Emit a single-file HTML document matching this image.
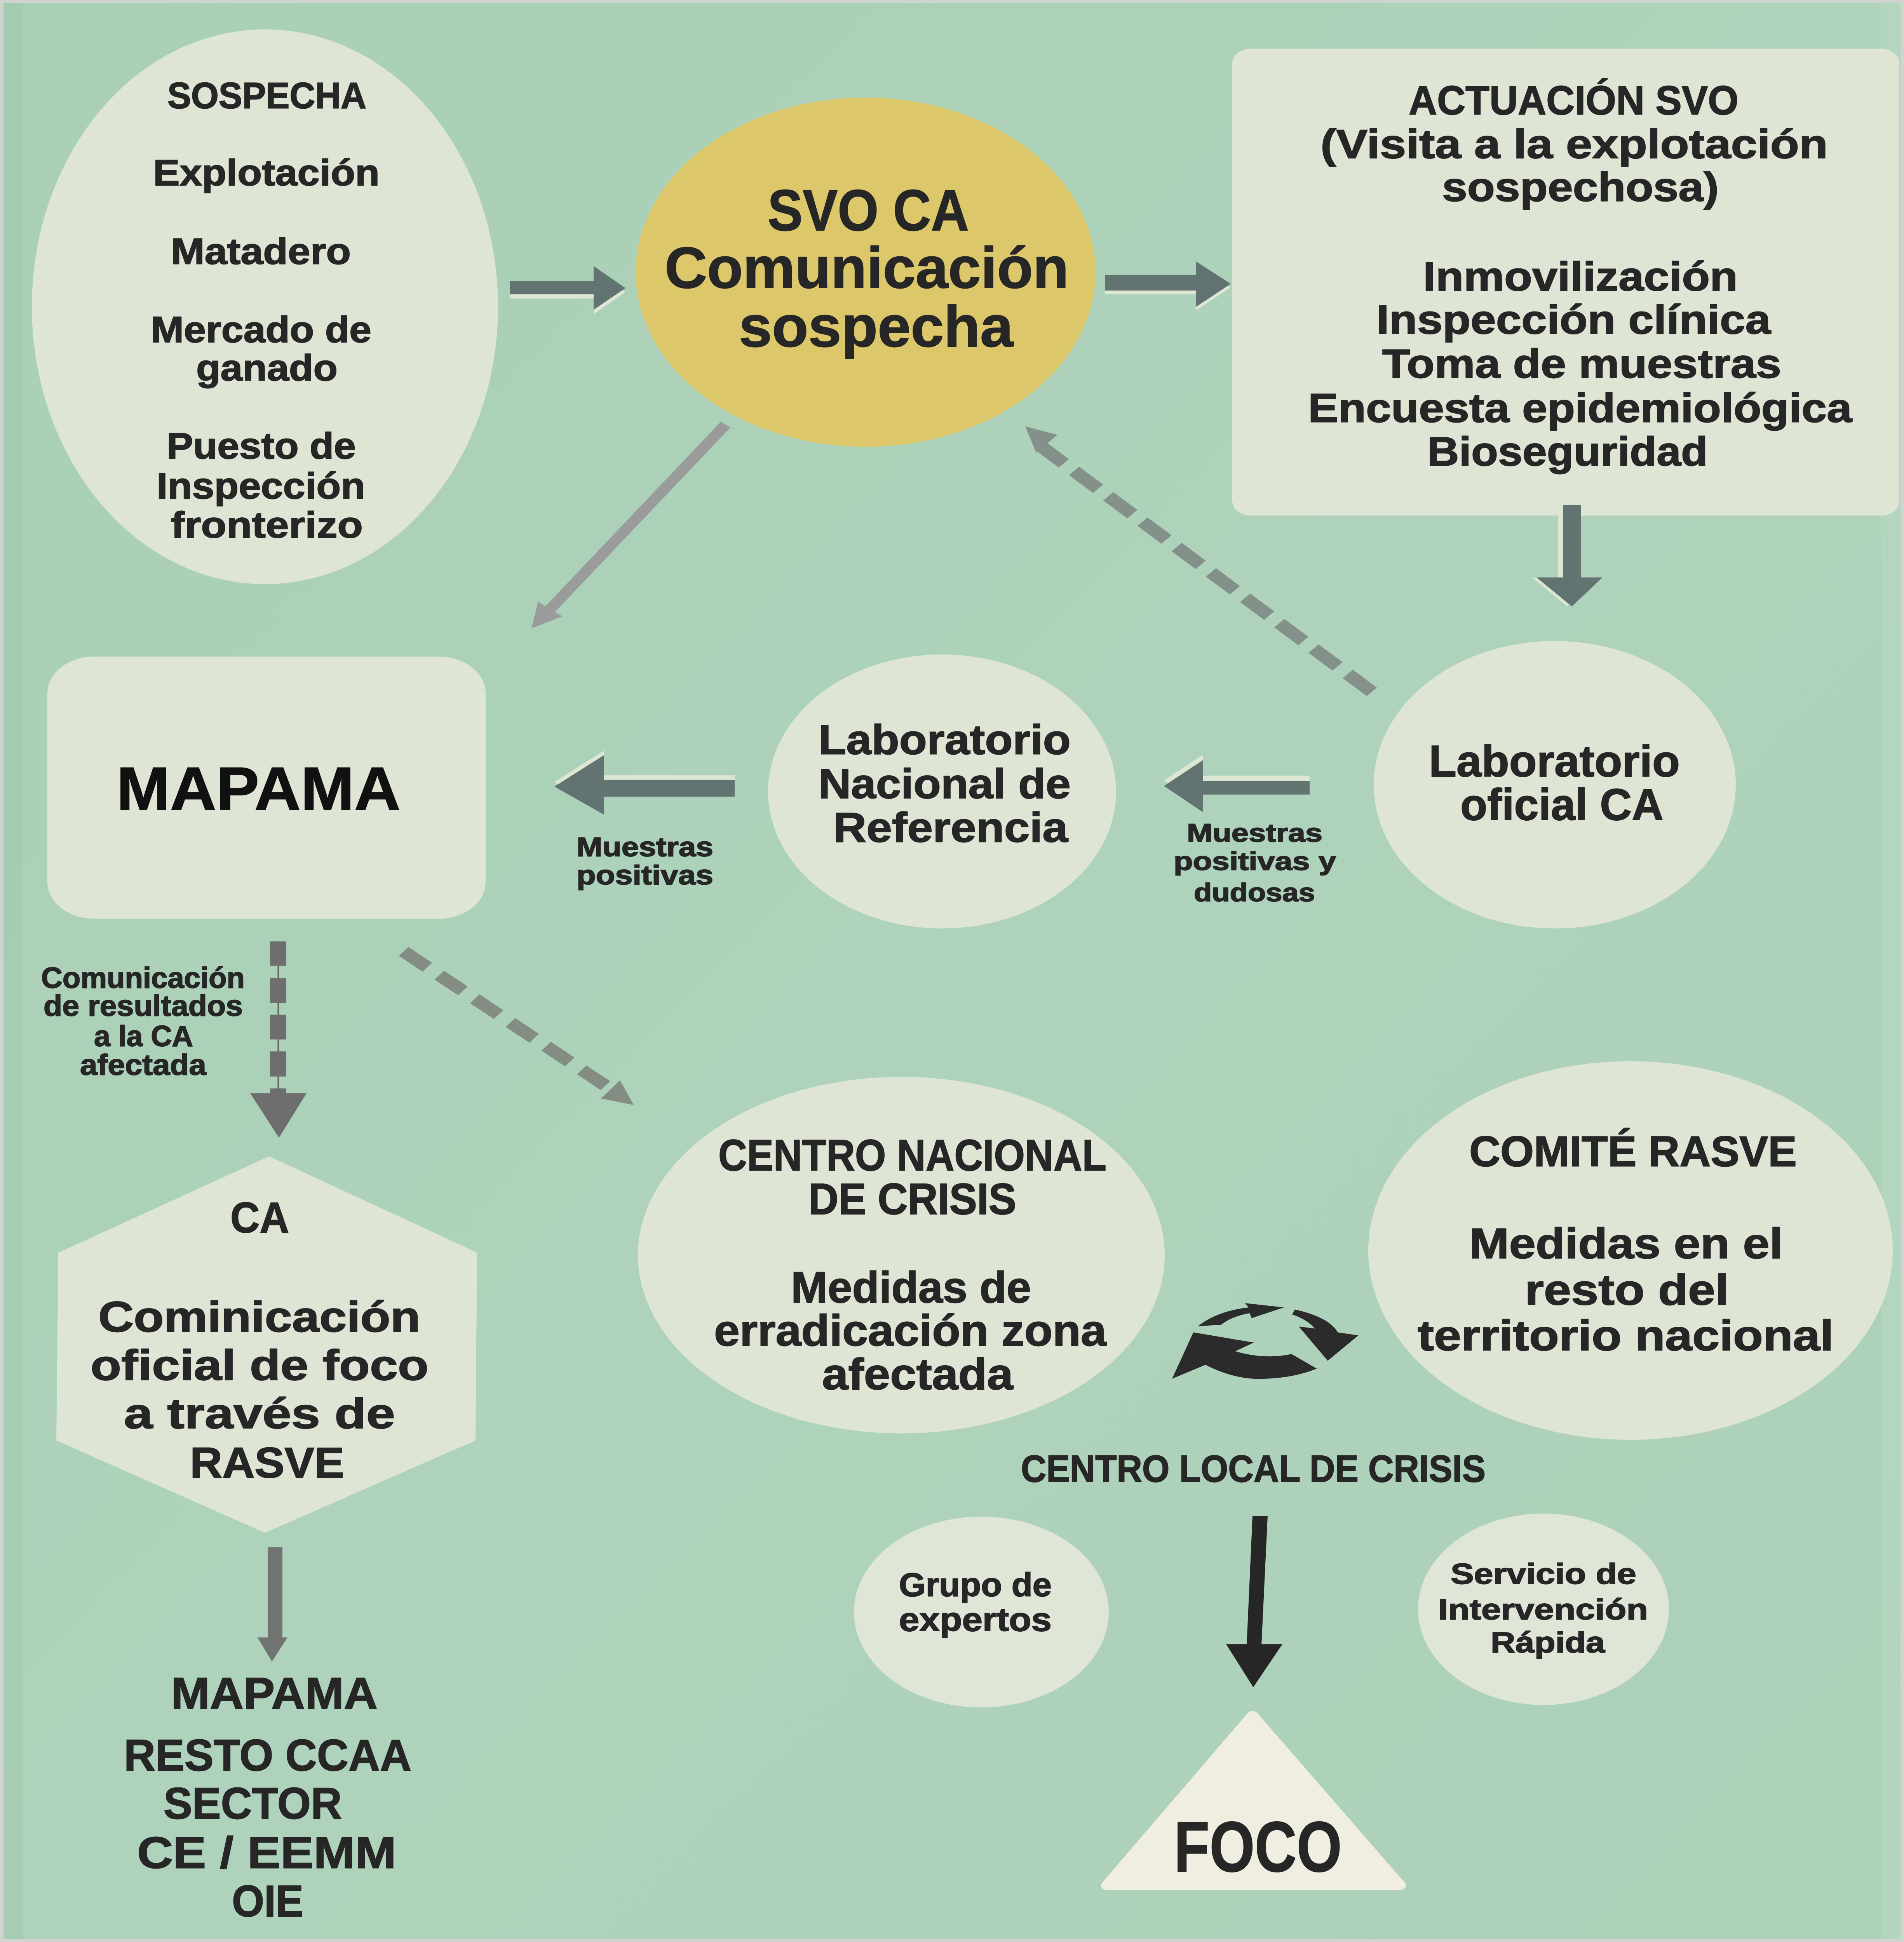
<!DOCTYPE html>
<html>
<head>
<meta charset="utf-8">
<style>
  html, body { margin: 0; padding: 0; width: 100%; height: 100%; overflow: hidden; background: #add1b9; }
  svg { position: fixed; left: 0; top: 0; width: 100vw; height: 100vh; display: block; }
  text { font-family: "Liberation Sans Narrow", "Liberation Sans", "DejaVu Sans Condensed", sans-serif; font-weight: bold; fill: #262626; stroke: #262626; stroke-width: 2.5; }
</style>
</head>
<body>
<svg xmlns="http://www.w3.org/2000/svg" viewBox="0 0 4901 6350" preserveAspectRatio="none">
  <defs>
    <linearGradient id="bg" x1="0" y1="0" x2="1" y2="1">
      <stop offset="0" stop-color="#a9cfb5"/>
      <stop offset="0.5" stop-color="#aed2bb"/>
      <stop offset="1" stop-color="#acd0b8"/>
    </linearGradient>
  </defs>
  <!-- background -->
  <rect x="0" y="0" width="4901" height="6350" fill="url(#bg)"/>
  <rect x="0" y="0" width="60" height="6350" fill="#a2c8ad" opacity="0.6"/>
  <rect x="4841" y="0" width="60" height="6350" fill="#b8d8c2" opacity="0.6"/>
  <rect x="0" y="0" width="4901" height="9" fill="#cfd4ce"/>
  <rect x="0" y="6341" width="4901" height="9" fill="#cfd4ce"/>
  <rect x="0" y="0" width="9" height="6350" fill="#cfd4ce"/>
  <rect x="4892" y="0" width="9" height="6350" fill="#cfd4ce"/>

  <!-- ===== Nodes ===== -->
  <ellipse cx="682" cy="1003" rx="600" ry="907" fill="#dee5d5"/>
  <ellipse cx="2228" cy="890" rx="592" ry="571" fill="#dcc76b"/>
  <rect x="3172" y="159" width="1717" height="1527" rx="48" ry="48" fill="#dee5d5"/>
  <rect x="122" y="2147" width="1128" height="857" rx="120" ry="120" fill="#dee5d5"/>
  <ellipse cx="2425" cy="2588" rx="448" ry="448" fill="#dee5d5"/>
  <ellipse cx="4002" cy="2566" rx="466" ry="470" fill="#dee5d5"/>
  <polygon points="693,3781 1228,4096 1224,4710 682,5012 145,4710 150,4096" fill="#dee5d5"/>
  <ellipse cx="2320" cy="4104" rx="678" ry="583" fill="#dee5d5"/>
  <ellipse cx="4197" cy="4089" rx="675" ry="619" fill="#dee5d5"/>
  <ellipse cx="2526" cy="5271" rx="328" ry="312" fill="#e0e6d7"/>
  <ellipse cx="3973" cy="5262" rx="323" ry="313" fill="#e0e6d7"/>
  <polygon points="3224,5610 3604,6165 2849,6165" fill="#f0eee0" stroke="#f0eee0" stroke-width="30" stroke-linejoin="round"/>

  <!-- ===== Connectors ===== -->
  <polygon points="1313,933 1528,933 1528,884 1610,956 1528,1027 1528,976 1313,976" fill="#dde5d3"/>
  <polygon points="1313,919 1528,919 1528,870 1610,942 1528,1013 1528,962 1313,962" fill="#627471"/>
  <polygon points="2845,911 3079,911 3079,867 3168,940 3079,1015 3079,962 2845,962" fill="#dde5d3"/>
  <polygon points="2845,899 3079,899 3079,855 3168,928 3079,1003 3079,950 2845,950" fill="#627471"/>
  <polygon points="4011,1652 4058,1652 4058,1888 4113,1888 4034,1983 3943,1888 4011,1888" fill="#dde5d3"/>
  <polygon points="4023,1652 4070,1652 4070,1888 4125,1888 4046,1983 3955,1888 4023,1888" fill="#627471"/>
  <polygon points="1891,2535 1555,2535 1555,2454 1427,2557 1555,2649 1555,2590 1891,2590" fill="#dde5d3"/>
  <polygon points="1891,2550 1555,2550 1555,2469 1427,2572 1555,2664 1555,2605 1891,2605" fill="#627471"/>
  <polygon points="3371,2536 3097,2536 3097,2467 2996,2552 3097,2638 3097,2580 3371,2580" fill="#dde5d3"/>
  <polygon points="3371,2554 3097,2554 3097,2485 2996,2570 3097,2656 3097,2598 3371,2598" fill="#627471"/>
  <line x1="1868" y1="1388" x2="1410" y2="2000" stroke="#9a9c9b" stroke-width="31"/>
  <polygon points="1368,2055 1385,1967 1412,1990 1448,2015" fill="#9a9c9b"/>
  <line x1="3531" y1="2262" x2="2680" y2="1460" stroke="#84908a" stroke-width="38" stroke-dasharray="85 36"/>
  <polygon points="2639,1394 2722,1422 2667,1480" fill="#84908a"/>
  <line x1="716" y1="3078" x2="716" y2="3580" stroke="#4e4e4e" stroke-width="3"/>
  <rect x="695" y="3078" width="42" height="80" fill="#6e6e6e"/>
  <rect x="695" y="3198" width="42" height="81" fill="#6e6e6e"/>
  <rect x="695" y="3318" width="42" height="81" fill="#6e6e6e"/>
  <rect x="695" y="3438" width="42" height="82" fill="#6e6e6e"/>
  <rect x="695" y="3559" width="42" height="20" fill="#6e6e6e"/>
  <polygon points="644,3575 789,3575 718,3720" fill="#6e6e6e"/>
  <line x1="1039" y1="3111" x2="1568" y2="3558" stroke="#838d84" stroke-width="38" stroke-dasharray="80 40"/>
  <polygon points="1631,3613 1596,3532 1547,3592" fill="#838d84"/>
  <polygon points="3224,4957 3263,4957 3247,5380 3209,5380" fill="#262626"/>
  <polygon points="3156,5376 3301,5376 3226,5517" fill="#262626"/>
  <rect x="689" y="5059" width="38" height="298" fill="#717572"/>
  <polygon points="663,5354 740,5354 700,5433" fill="#717572"/>

  <!-- Recycle icon -->
  <g transform="translate(2950,4180) scale(0.3827,0.3333)" fill="#2b2b2b">
    <path d="M348,470 Q480,320 690,285 L665,243 L928,285 L710,390 L697,342 Q580,370 505,455 Z"/>
    <path d="M1000,305 Q1230,380 1290,530 L1428,560 L1222,808 L1027,472 L1135,492 Q1080,400 983,355 Z"/>
    <path d="M978,742 Q800,800 600,715 L725,630 L318,530 L175,985 L400,848 Q600,1000 800,985 Q1000,975 1148,885 Z"/>
  </g>

  <!-- ===== Text ===== -->
  <g font-size="120">
    <text x="431" y="354" textLength="512" lengthAdjust="spacingAndGlyphs">SOSPECHA</text>
    <text x="394" y="606" textLength="583" lengthAdjust="spacingAndGlyphs">Explotación</text>
    <text x="440" y="863" textLength="463" lengthAdjust="spacingAndGlyphs">Matadero</text>
    <text x="388" y="1119" textLength="568" lengthAdjust="spacingAndGlyphs">Mercado de</text>
    <text x="505" y="1244" textLength="364" lengthAdjust="spacingAndGlyphs">ganado</text>
    <text x="429" y="1499" textLength="487" lengthAdjust="spacingAndGlyphs">Puesto de</text>
    <text x="403" y="1630" textLength="537" lengthAdjust="spacingAndGlyphs">Inspección</text>
    <text x="440" y="1758" textLength="494" lengthAdjust="spacingAndGlyphs">fronterizo</text>
  </g>
  <g font-size="190">
    <text x="1976" y="753" textLength="518" lengthAdjust="spacingAndGlyphs">SVO CA</text>
    <text x="1711" y="941" textLength="1040" lengthAdjust="spacingAndGlyphs">Comunicación</text>
    <text x="1902" y="1133" textLength="706" lengthAdjust="spacingAndGlyphs">sospecha</text>
  </g>
  <g font-size="133">
    <text x="3626" y="374" textLength="849" lengthAdjust="spacingAndGlyphs">ACTUACIÓN SVO</text>
    <text x="3399" y="517" textLength="1306" lengthAdjust="spacingAndGlyphs">(Visita a la explotación</text>
    <text x="3712" y="657" textLength="712" lengthAdjust="spacingAndGlyphs">sospechosa)</text>
    <text x="3663" y="950" textLength="810" lengthAdjust="spacingAndGlyphs">Inmovilización</text>
    <text x="3543" y="1091" textLength="1015" lengthAdjust="spacingAndGlyphs">Inspección clínica</text>
    <text x="3558" y="1235" textLength="1027" lengthAdjust="spacingAndGlyphs">Toma de muestras</text>
    <text x="3367" y="1380" textLength="1400" lengthAdjust="spacingAndGlyphs">Encuesta epidemiológica</text>
    <text x="3674" y="1522" textLength="722" lengthAdjust="spacingAndGlyphs">Bioseguridad</text>
  </g>
  <text x="300" y="2648" font-size="200" textLength="731" lengthAdjust="spacingAndGlyphs" style="fill:#111;stroke:#111">MAPAMA</text>
  <g font-size="88">
    <text x="1484" y="2800" textLength="352" lengthAdjust="spacingAndGlyphs">Muestras</text>
    <text x="1484" y="2892" textLength="352" lengthAdjust="spacingAndGlyphs">positivas</text>
  </g>
  <g font-size="137">
    <text x="2107" y="2466" textLength="649" lengthAdjust="spacingAndGlyphs">Laboratorio</text>
    <text x="2107" y="2610" textLength="649" lengthAdjust="spacingAndGlyphs">Nacional de</text>
    <text x="2145" y="2753" textLength="604" lengthAdjust="spacingAndGlyphs">Referencia</text>
  </g>
  <g font-size="145">
    <text x="3678" y="2539" textLength="646" lengthAdjust="spacingAndGlyphs">Laboratorio</text>
    <text x="3759" y="2681" textLength="523" lengthAdjust="spacingAndGlyphs">oficial CA</text>
  </g>
  <g font-size="84">
    <text x="3055" y="2752" textLength="349" lengthAdjust="spacingAndGlyphs">Muestras</text>
    <text x="3021" y="2845" textLength="418" lengthAdjust="spacingAndGlyphs">positivas y</text>
    <text x="3073" y="2947" textLength="312" lengthAdjust="spacingAndGlyphs">dudosas</text>
  </g>
  <g font-size="95">
    <text x="106" y="3230" textLength="524" lengthAdjust="spacingAndGlyphs">Comunicación</text>
    <text x="112" y="3322" textLength="513" lengthAdjust="spacingAndGlyphs">de resultados</text>
    <text x="242" y="3421" textLength="255" lengthAdjust="spacingAndGlyphs">a la CA</text>
    <text x="206" y="3515" textLength="325" lengthAdjust="spacingAndGlyphs">afectada</text>
  </g>
  <g font-size="140">
    <text x="593" y="4030" textLength="151" lengthAdjust="spacingAndGlyphs">CA</text>
    <text x="253" y="4354" textLength="829" lengthAdjust="spacingAndGlyphs">Cominicación</text>
    <text x="233" y="4512" textLength="870" lengthAdjust="spacingAndGlyphs">oficial de foco</text>
    <text x="319" y="4670" textLength="698" lengthAdjust="spacingAndGlyphs">a través de</text>
    <text x="489" y="4831" textLength="397" lengthAdjust="spacingAndGlyphs">RASVE</text>
  </g>
  <g font-size="145">
    <text x="440" y="5587" textLength="532" lengthAdjust="spacingAndGlyphs">MAPAMA</text>
    <text x="319" y="5789" textLength="740" lengthAdjust="spacingAndGlyphs">RESTO CCAA</text>
    <text x="421" y="5947" textLength="459" lengthAdjust="spacingAndGlyphs">SECTOR</text>
    <text x="353" y="6108" textLength="667" lengthAdjust="spacingAndGlyphs">CE / EEMM</text>
    <text x="597" y="6266" textLength="184" lengthAdjust="spacingAndGlyphs">OIE</text>
  </g>
  <g font-size="144">
    <text x="1849" y="3827" textLength="999" lengthAdjust="spacingAndGlyphs">CENTRO NACIONAL</text>
    <text x="2081" y="3970" textLength="535" lengthAdjust="spacingAndGlyphs">DE CRISIS</text>
    <text x="2036" y="4259" textLength="618" lengthAdjust="spacingAndGlyphs">Medidas de</text>
    <text x="1838" y="4400" textLength="1010" lengthAdjust="spacingAndGlyphs">erradicación zona</text>
    <text x="2116" y="4543" textLength="492" lengthAdjust="spacingAndGlyphs">afectada</text>
  </g>
  <g font-size="140">
    <text x="3782" y="3813" textLength="843" lengthAdjust="spacingAndGlyphs">COMITÉ RASVE</text>
    <text x="3782" y="4114" textLength="807" lengthAdjust="spacingAndGlyphs">Medidas en el</text>
    <text x="3925" y="4266" textLength="525" lengthAdjust="spacingAndGlyphs">resto del</text>
    <text x="3649" y="4415" textLength="1071" lengthAdjust="spacingAndGlyphs">territorio nacional</text>
  </g>
  <text x="2628" y="4845" font-size="124" textLength="1196" lengthAdjust="spacingAndGlyphs">CENTRO LOCAL DE CRISIS</text>
  <g font-size="108">
    <text x="2314" y="5219" textLength="393" lengthAdjust="spacingAndGlyphs">Grupo de</text>
    <text x="2314" y="5333" textLength="393" lengthAdjust="spacingAndGlyphs">expertos</text>
  </g>
  <g font-size="96">
    <text x="3734" y="5179" textLength="478" lengthAdjust="spacingAndGlyphs">Servicio de</text>
    <text x="3702" y="5295" textLength="540" lengthAdjust="spacingAndGlyphs">Intervención</text>
    <text x="3837" y="5403" textLength="294" lengthAdjust="spacingAndGlyphs">Rápida</text>
  </g>
  <text x="3022" y="6119" font-size="233" textLength="432" lengthAdjust="spacingAndGlyphs">FOCO</text>
</svg>
</body>
</html>
